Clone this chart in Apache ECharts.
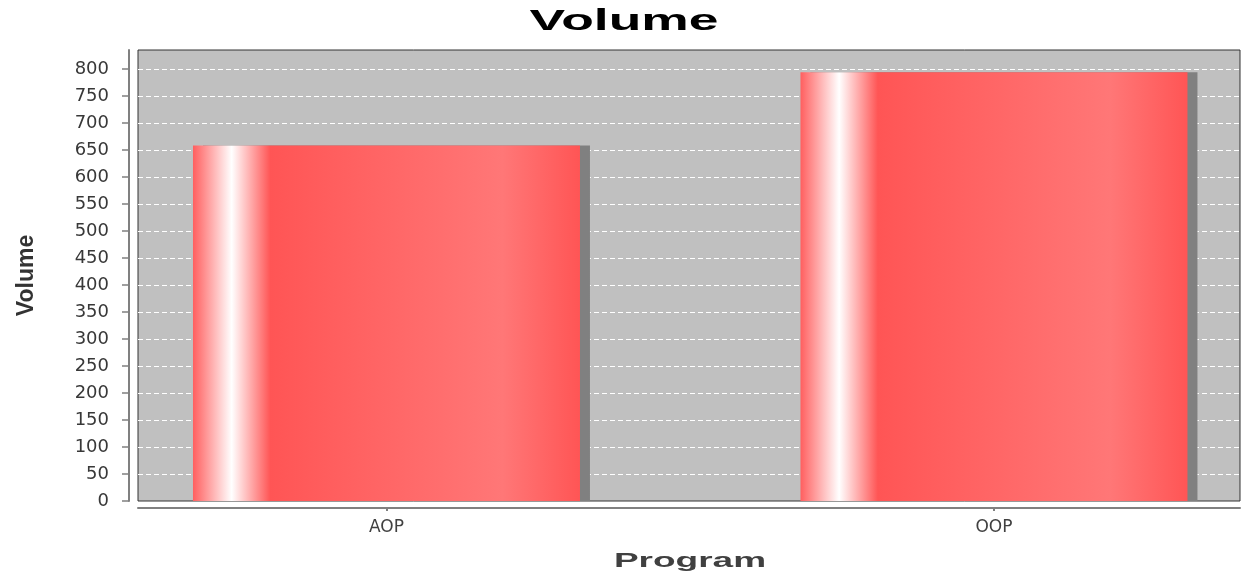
<!DOCTYPE html>
<html>
<head>
<meta charset="utf-8">
<script src="https://cdn.jsdelivr.net/npm/echarts@6/dist/echarts.min.js"></script>
<style>
  html, body { margin: 0; padding: 0; background: #fff; }
  #chart { width: 1248px; height: 574px; }
</style>
</head>
<body>
<div id="chart"></div>
<script>
const categories = ['AOP', 'OOP'];
const volumes = [658, 794];
const yMax = 835;
const yStep = 50;

const chartDom = document.querySelector('#chart');
const myChart = echarts.init(chartDom);

const barData = categories.map((name, i) => [i, volumes[i]]);

const option = {
  animation: false,
  graphic: [
    {
      type: 'text',
      x: 624,
      y: 22,
      scaleX: 1.78,
      style: {
        text: 'Volume',
        fill: '#000',
        font: 'bold 30px "Liberation Sans"',
        textAlign: 'center',
        textVerticalAlign: 'middle',
      },
    },
    {
      type: 'text',
      x: 690,
      y: 561,
      scaleX: 1.85,
      style: {
        text: 'Program',
        fill: '#404040',
        font: 'bold 20px "Liberation Sans"',
        textAlign: 'center',
        textVerticalAlign: 'middle',
      },
    },
  ],
  grid: {
    left: 138,
    right: 8,
    top: 50,
    bottom: 73,
    show: true,
    backgroundColor: '#c0c0c0',
    borderColor: '#333',
    borderWidth: 1,
  },
  xAxis: {
    type: 'value',
    min: -0.409,
    max: 1.405,
    offset: 7,
    splitLine: { show: false },
    axisLine: { show: true, onZero: false, lineStyle: { color: '#808080', width: 2 } },
    axisTick: {
      show: true,
      customValues: [0, 1],
      length: 3,
      lineStyle: { color: '#808080', width: 2 },
    },
    axisLabel: {
      customValues: [0, 1],
      formatter: (v) => categories[Math.round(v)],
      color: '#404040',
      fontSize: 17,
      fontFamily: 'DejaVu Sans',
      margin: 11,
    },
  },
  yAxis: {
    type: 'value',
    min: 0,
    max: yMax,
    interval: yStep,
    offset: 9,
    name: 'Volume',
    nameLocation: 'middle',
    nameRotate: 90,
    nameGap: 91,
    nameTextStyle: {
      color: '#333',
      fontSize: 23,
      fontWeight: 'bold',
      fontFamily: 'Liberation Sans',
    },
    axisLine: { show: true, onZero: false, lineStyle: { color: '#808080', width: 2 } },
    axisTick: { show: true, length: 7, lineStyle: { color: '#808080', width: 1.5 } },
    axisLabel: {
      showMaxLabel: false,
      color: '#383838',
      fontSize: 18,
      fontFamily: 'DejaVu Sans',
      margin: 20,
    },
    splitLine: {
      show: true,
      showMinLine: false,
      showMaxLine: false,
      lineStyle: { color: '#ffffff', width: 1, type: [5, 3] },
    },
  },
  series: [
    {
      type: 'bar',
      data: barData,
      barWidth: 387,
      itemStyle: {
        color: new echarts.graphic.LinearGradient(0, 0, 1, 0, [
          { offset: 0, color: '#ff5f5f' },
          { offset: 0.1, color: '#ffffff' },
          { offset: 0.2, color: '#ff5555' },
          { offset: 0.8, color: '#ff7777' },
          { offset: 1, color: '#ff5555' },
        ]),
        shadowColor: '#808080',
        shadowBlur: 0,
        shadowOffsetX: 10,
        shadowOffsetY: 0,
      },
    },
  ],
};

option && myChart.setOption(option);
</script>
</body>
</html>
